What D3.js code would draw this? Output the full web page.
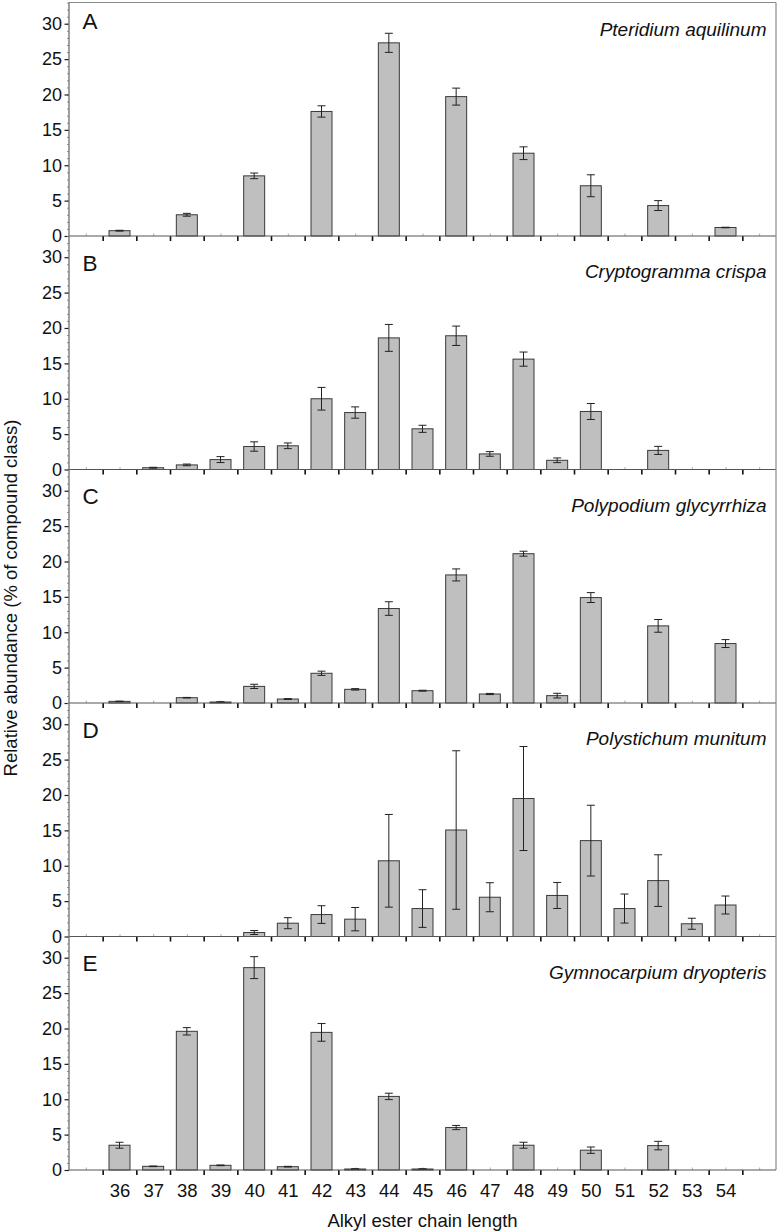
<!DOCTYPE html>
<html><head><meta charset="utf-8">
<script src="https://cdn.jsdelivr.net/npm/d3@7"></script>
<style>
body{margin:0;background:#fff}
svg{display:block}
text{font-family:"Liberation Sans",Arial,Helvetica,sans-serif;fill:#111}
</style>
</head><body>
<svg id="chart" width="778" height="1231"></svg>
<script>
// ---------- data ----------
const categories = [36,37,38,39,40,41,42,43,44,45,46,47,48,49,50,51,52,53,54];
const panelLetters = ["A","B","C","D","E"];
const speciesNames = ["Pteridium aquilinum","Cryptogramma crispa","Polypodium glycyrrhiza","Polystichum munitum","Gymnocarpium dryopteris"];

const valuesA = [0.75,null,3.0,null,8.5,null,17.6,null,27.3,null,19.7,null,11.7,null,7.1,null,4.3,null,1.2];
const errorsA = [0.06,null,0.2,null,0.4,null,0.8,null,1.35,null,1.2,null,0.9,null,1.55,null,0.7,null,0.04];

const valuesB = [null,0.25,0.65,1.4,3.25,3.35,10.0,8.05,18.6,5.75,18.9,2.2,15.6,1.3,8.2,null,2.7,null,null];
const errorsB = [null,0.06,0.12,0.42,0.66,0.4,1.6,0.8,1.9,0.5,1.37,0.33,1.0,0.33,1.13,null,0.57,null,null];

const valuesC = [0.23,null,0.75,0.14,2.35,0.56,4.2,1.93,13.35,1.74,18.1,1.27,21.1,1.04,14.9,null,10.9,null,8.4];
const errorsC = [0.03,null,0.04,0.03,0.3,0.06,0.3,0.1,0.96,0.06,0.85,0.08,0.35,0.33,0.7,null,0.9,null,0.56];

const valuesD = [null,null,null,null,0.56,1.88,3.1,2.45,10.7,3.95,15.05,5.55,19.5,5.8,13.55,3.95,7.9,1.8,4.45];
const errorsD = [null,null,null,null,0.28,0.78,1.25,1.65,6.55,2.66,11.2,2.05,7.35,1.84,5.0,2.05,3.65,0.78,1.27];

const valuesE = [3.5,0.52,19.6,0.66,28.6,0.47,19.45,0.14,10.4,0.14,6.0,null,3.5,null,2.8,null,3.45,null,null];
const errorsE = [0.42,0.04,0.52,0.05,1.55,0.05,1.25,0.04,0.45,0.03,0.3,null,0.42,null,0.45,null,0.6,null,null];

const panelValues = [valuesA,valuesB,valuesC,valuesD,valuesE];
const panelErrors = [errorsA,errorsB,errorsC,errorsD,errorsE];

const yTickValues = [0,5,10,15,20,25,30];
const xTitle = "Alkyl ester chain length";
const yTitle = "Relative abundance (% of compound class)";

// ---------- layout ----------
const plotLeft = 69, plotRight = 776, plotTop = 2.5, panelH = 233.5;
const yMax = 33;
const svg = d3.select("#chart");

const x = d3.scaleLinear().domain([34.5, 55.5]).range([plotLeft, plotRight]);
const barW = 21, capW = 8;
const frameColor = "#8a8a8a";

panelValues.forEach((vals, p) => {
  const zero = plotTop + panelH * (p + 1);
  const y = d3.scaleLinear().domain([0, yMax]).range([zero, zero - panelH]);
  const g = svg.append("g");

  // minor y ticks
  g.append("g").attr("transform", `translate(${plotLeft},0)`)
    .call(d3.axisLeft(y).tickValues(d3.range(0, 34, 1)).tickSize(2).tickFormat(""))
    .call(s => s.select(".domain").remove())
    .call(s => s.selectAll("line").attr("stroke", "#777").attr("stroke-width", 0.8));

  // major y ticks + labels
  g.append("g").attr("transform", `translate(${plotLeft},0)`)
    .call(d3.axisLeft(y).tickValues(yTickValues).tickSize(4.5).tickPadding(2.5))
    .call(s => s.select(".domain").remove())
    .call(s => s.selectAll("line").attr("stroke", "#222").attr("stroke-width", 1.2))
    .call(s => s.selectAll("text").attr("font-size", 18).attr("fill", "#111")
      .attr("font-family", '"Liberation Sans",Arial,sans-serif'));

  // minor x ticks (inward)
  g.append("g").attr("transform", `translate(0,${zero})`)
    .call(d3.axisBottom(x).tickValues(d3.range(35, 56, 1)).tickSize(-2.5).tickFormat(""))
    .call(s => s.select(".domain").remove())
    .call(s => s.selectAll("line").attr("stroke", "#999").attr("stroke-width", 0.8));

  // major x ticks (outward)
  g.append("g").attr("transform", `translate(0,${zero})`)
    .call(d3.axisBottom(x).tickValues(d3.range(35.5, 55, 1)).tickSize(5).tickFormat(""))
    .call(s => s.select(".domain").remove())
    .call(s => s.selectAll("line").attr("stroke", "#111").attr("stroke-width", 1.6));

  // bars
  const data = categories.map((c, i) => ({c, v: vals[i], e: panelErrors[p][i]})).filter(d => d.v != null);
  g.selectAll("rect.bar").data(data).join("rect")
    .attr("class", "bar")
    .attr("x", d => x(d.c) - barW / 2)
    .attr("y", d => y(d.v))
    .attr("width", barW)
    .attr("height", d => y(0) - y(d.v))
    .attr("fill", "#bfbfbf")
    .attr("stroke", "#3a3a3a")
    .attr("stroke-width", 1);

  // error bars
  const eb = g.selectAll("g.err").data(data.filter(d => d.e != null)).join("g").attr("class", "err")
    .attr("stroke", "#222").attr("stroke-width", 1);
  eb.append("line").attr("x1", d => x(d.c)).attr("x2", d => x(d.c))
    .attr("y1", d => y(d.v + d.e)).attr("y2", d => y(Math.max(0, d.v - d.e)));
  eb.append("line").attr("x1", d => x(d.c) - capW / 2).attr("x2", d => x(d.c) + capW / 2)
    .attr("y1", d => y(d.v + d.e)).attr("y2", d => y(d.v + d.e));
  eb.append("line").attr("x1", d => x(d.c) - capW / 2).attr("x2", d => x(d.c) + capW / 2)
    .attr("y1", d => y(Math.max(0, d.v - d.e))).attr("y2", d => y(Math.max(0, d.v - d.e)));

  // bottom axis line and right frame
  g.append("line").attr("x1", plotLeft).attr("x2", plotRight).attr("y1", zero).attr("y2", zero)
    .attr("stroke", "#555").attr("stroke-width", 1.2);
  g.append("line").attr("x1", plotRight).attr("x2", plotRight).attr("y1", zero - panelH).attr("y2", zero)
    .attr("stroke", frameColor).attr("stroke-width", 1.2);

  // panel letter and species
  const labelShift = p === 0 ? -8.5 : 0;
  g.append("text").attr("x", 82.5).attr("y", zero - panelH + 34.5 + labelShift)
    .attr("font-size", 22.5).text(panelLetters[p]);
  g.append("text").attr("x", 766.5).attr("y", zero - panelH + 42 + labelShift)
    .attr("text-anchor", "end").attr("font-size", 19).attr("font-style", "italic")
    .text(speciesNames[p]);

  // category labels on the last panel
  if (p === panelValues.length - 1) {
    g.append("g").attr("transform", `translate(0,${zero})`)
      .call(d3.axisBottom(x).tickValues(categories).tickSize(0).tickPadding(14).tickFormat(d3.format("d")))
      .call(s => s.select(".domain").remove())
      .call(s => s.selectAll("text").attr("font-size", 18.5).attr("fill", "#111")
        .attr("font-family", '"Liberation Sans",Arial,sans-serif'));
  }
});

// top frame and left axis line
svg.append("line").attr("x1", plotLeft).attr("x2", plotRight).attr("y1", plotTop).attr("y2", plotTop)
  .attr("stroke", frameColor).attr("stroke-width", 1.2);
svg.append("line").attr("x1", plotLeft).attr("x2", plotLeft).attr("y1", plotTop).attr("y2", plotTop + panelH * 5)
  .attr("stroke", "#777").attr("stroke-width", 1.4);

// titles
svg.append("text").attr("x", (plotLeft + plotRight) / 2).attr("y", 1226.5)
  .attr("text-anchor", "middle").attr("font-size", 18.5).text(xTitle);
svg.append("text").attr("transform", "translate(17,598) rotate(-90)")
  .attr("text-anchor", "middle").attr("font-size", 18.5).text(yTitle);
</script>
</body></html>
